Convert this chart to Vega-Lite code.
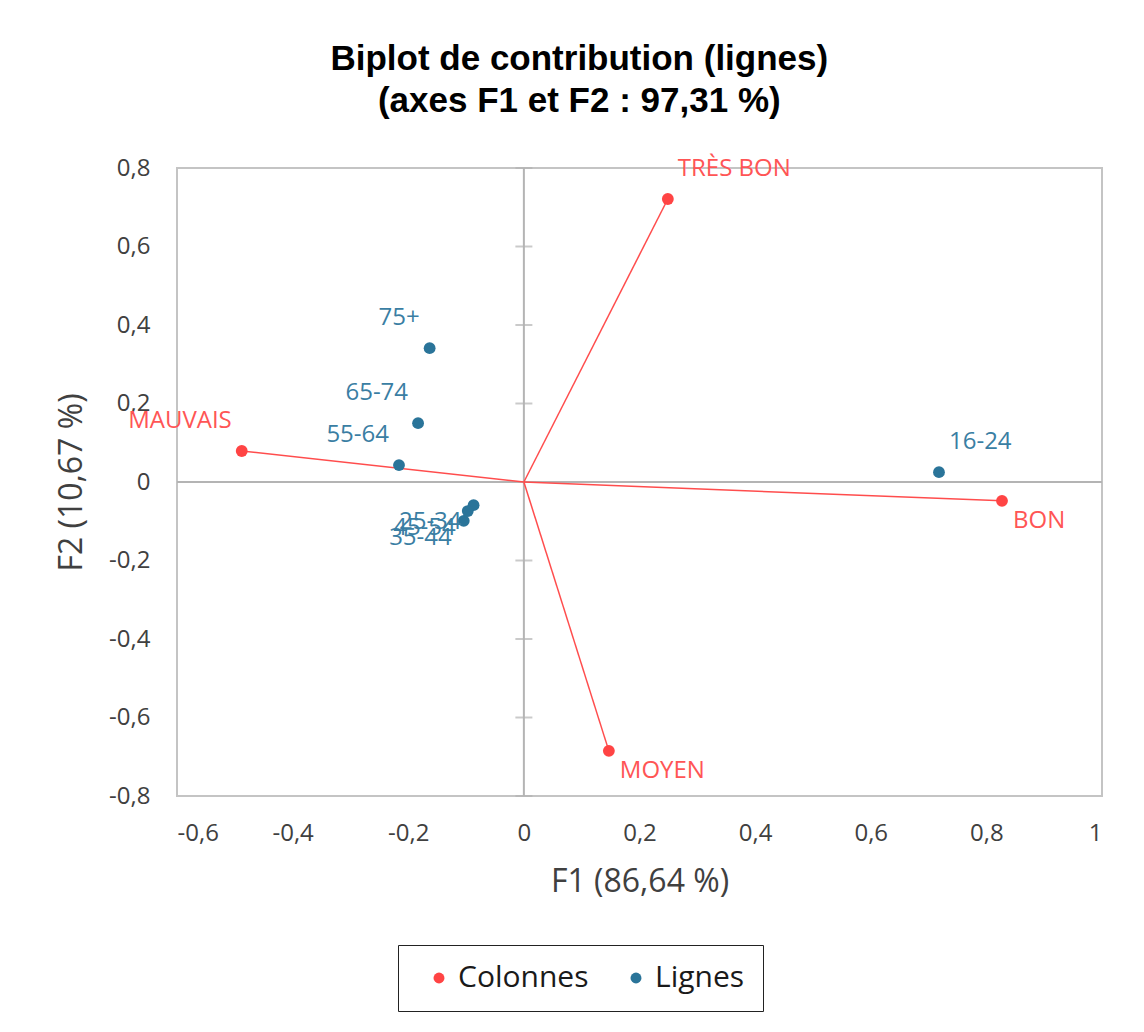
{
  "$schema": "https://vega.github.io/schema/vega-lite/v6.json",
  "autosize": {"type": "none"},
  "width": 925,
  "height": 628,
  "padding": {"left": 177, "top": 168, "right": 42, "bottom": 236},
  "background": "white",
  "config": {
    "view": {"stroke": "#C4C4C4", "strokeWidth": 2},
    "font": "Open Sans"
  },
  "title": {
    "text": ["Biplot de contribution (lignes)", "(axes F1 et F2 : 97,31 %)"],
    "font": "Liberation Sans",
    "fontWeight": "bold",
    "fontSize": 35,
    "lineHeight": 42,
    "color": "#000000",
    "anchor": "middle",
    "frame": "bounds",
    "offset": 37
  },
  "datasets": {
    "coords": [
      {"label": "TRÈS BON", "group": "Colonnes", "x": 0.249, "y": 0.721},
      {"label": "BON", "group": "Colonnes", "x": 0.827, "y": -0.048},
      {"label": "MOYEN", "group": "Colonnes", "x": 0.147, "y": -0.685},
      {"label": "MAUVAIS", "group": "Colonnes", "x": -0.488, "y": 0.079},
      {"label": "16-24", "group": "Lignes", "x": 0.718, "y": 0.025},
      {"label": "25-34", "group": "Lignes", "x": -0.087, "y": -0.059},
      {"label": "35-44", "group": "Lignes", "x": -0.104, "y": -0.099},
      {"label": "45-54", "group": "Lignes", "x": -0.097, "y": -0.074},
      {"label": "55-64", "group": "Lignes", "x": -0.216, "y": 0.043},
      {"label": "65-74", "group": "Lignes", "x": -0.183, "y": 0.150},
      {"label": "75+", "group": "Lignes", "x": -0.163, "y": 0.341}
    ],
    "graduations": [
      {"v": -0.8}, {"v": -0.6}, {"v": -0.4}, {"v": -0.2}, {"v": 0},
      {"v": 0.2}, {"v": 0.4}, {"v": 0.6}, {"v": 0.8}
    ]
  },
  "data": {"name": "coords"},
  "layer": [
    {
      "data": {"values": [{"x0": 0, "ya": -0.8, "yb": 0.8}]},
      "mark": {"type": "rule", "color": "#B4B4B4", "strokeWidth": 2},
      "encoding": {
        "x": {"field": "x0", "type": "quantitative"},
        "y": {"field": "ya", "type": "quantitative"},
        "y2": {"field": "yb"}
      }
    },
    {
      "data": {"values": [{"y0": 0, "xa": -0.6, "xb": 1}]},
      "mark": {"type": "rule", "color": "#B4B4B4", "strokeWidth": 2},
      "encoding": {
        "y": {"field": "y0", "type": "quantitative"},
        "x": {"field": "xa", "type": "quantitative"},
        "x2": {"field": "xb"}
      }
    },
    {
      "data": {"name": "graduations"},
      "mark": {"type": "tick", "orient": "horizontal", "color": "#B4B4B4", "size": 17, "thickness": 2},
      "encoding": {
        "x": {"datum": 0, "type": "quantitative"},
        "y": {"field": "v", "type": "quantitative"}
      }
    },
    {
      "transform": [{"filter": "datum.group === 'Colonnes'"}],
      "mark": {"type": "rule", "color": "#FF4D4D", "strokeWidth": 1.5},
      "encoding": {
        "x": {"field": "x", "type": "quantitative"},
        "y": {"field": "y", "type": "quantitative"},
        "x2": {"datum": 0},
        "y2": {"datum": 0}
      }
    },
    {
      "mark": {"type": "circle", "size": 140, "opacity": 1},
      "encoding": {
        "x": {
          "field": "x", "type": "quantitative",
          "scale": {"domain": [-0.6, 1], "nice": false, "zero": false},
          "axis": {
            "title": "F1 (86,64 %)",
            "values": [-0.6, -0.4, -0.2, 0, 0.2, 0.4, 0.6, 0.8, 1],
            "labelExpr": "replace(toString(datum.value), '.', ',')",
            "domain": false, "ticks": false, "tickSize": 0, "grid": false,
            "labelFont": "Open Sans", "labelFontSize": 24, "labelColor": "#404040",
            "labelPadding": 25,
            "titleFont": "Open Sans", "titleFontSize": 32, "titleFontWeight": "normal",
            "titleColor": "#404040", "titlePadding": 21
          }
        },
        "y": {
          "field": "y", "type": "quantitative",
          "scale": {"domain": [-0.8, 0.8], "nice": false, "zero": false},
          "axis": {
            "title": "F2 (10,67 %)",
            "values": [-0.8, -0.6, -0.4, -0.2, 0, 0.2, 0.4, 0.6, 0.8],
            "labelExpr": "replace(toString(datum.value), '.', ',')",
            "domain": false, "ticks": false, "tickSize": 0, "grid": false,
            "labelFont": "Open Sans", "labelFontSize": 24, "labelColor": "#404040",
            "labelPadding": 27,
            "titleFont": "Open Sans", "titleFontSize": 32, "titleFontWeight": "normal",
            "titleColor": "#404040", "titlePadding": 20
          }
        },
        "color": {
          "field": "group", "type": "nominal",
          "scale": {"domain": ["Colonnes", "Lignes"], "range": ["#FF4444", "#2A7499"]},
          "legend": {
            "title": null,
            "orient": "none",
            "legendX": 221,
            "legendY": 777,
            "direction": "horizontal",
            "strokeColor": "#222222",
            "fillColor": "#FFFFFF",
            "padding": 18,
            "symbolType": "circle",
            "symbolSize": 120,
            "symbolStrokeWidth": 0,
            "symbolOffset": 8,
            "labelFont": "Open Sans",
            "labelFontSize": 30,
            "labelColor": "#1A1A1A",
            "labelOffset": 4,
            "columnPadding": 24
          }
        }
      }
    },
    {
      "transform": [{"filter": {"field": "label", "oneOf": ["TRÈS BON", "16-24"]}}],
      "mark": {"type": "text", "align": "left", "baseline": "middle", "dx": 10, "dy": -30, "fontSize": 24, "font": "Open Sans"},
      "encoding": {
        "x": {"field": "x", "type": "quantitative"},
        "y": {"field": "y", "type": "quantitative"},
        "text": {"field": "label"},
        "fill": {"field": "group", "type": "nominal", "scale": {"domain": ["Colonnes", "Lignes"], "range": ["#FF5555", "#3A7EA3"]}, "legend": null}
      }
    },
    {
      "transform": [{"filter": {"field": "label", "oneOf": ["BON", "MOYEN"]}}],
      "mark": {"type": "text", "align": "left", "baseline": "middle", "dx": 11, "dy": 20, "fontSize": 24, "font": "Open Sans"},
      "encoding": {
        "x": {"field": "x", "type": "quantitative"},
        "y": {"field": "y", "type": "quantitative"},
        "text": {"field": "label"},
        "fill": {"field": "group", "type": "nominal", "legend": null}
      }
    },
    {
      "transform": [{"filter": {"field": "label", "oneOf": ["MAUVAIS", "75+", "65-74", "55-64"]}}],
      "mark": {"type": "text", "align": "right", "baseline": "middle", "dx": -10, "dy": -30, "fontSize": 24, "font": "Open Sans"},
      "encoding": {
        "x": {"field": "x", "type": "quantitative"},
        "y": {"field": "y", "type": "quantitative"},
        "text": {"field": "label"},
        "fill": {"field": "group", "type": "nominal", "legend": null}
      }
    },
    {
      "transform": [{"filter": {"field": "label", "oneOf": ["25-34", "45-54", "35-44"]}}],
      "mark": {"type": "text", "align": "right", "baseline": "middle", "dx": -12, "dy": 17, "fontSize": 24, "font": "Open Sans"},
      "encoding": {
        "x": {"field": "x", "type": "quantitative"},
        "y": {"field": "y", "type": "quantitative"},
        "text": {"field": "label"},
        "fill": {"field": "group", "type": "nominal", "legend": null}
      }
    }
  ]
}
